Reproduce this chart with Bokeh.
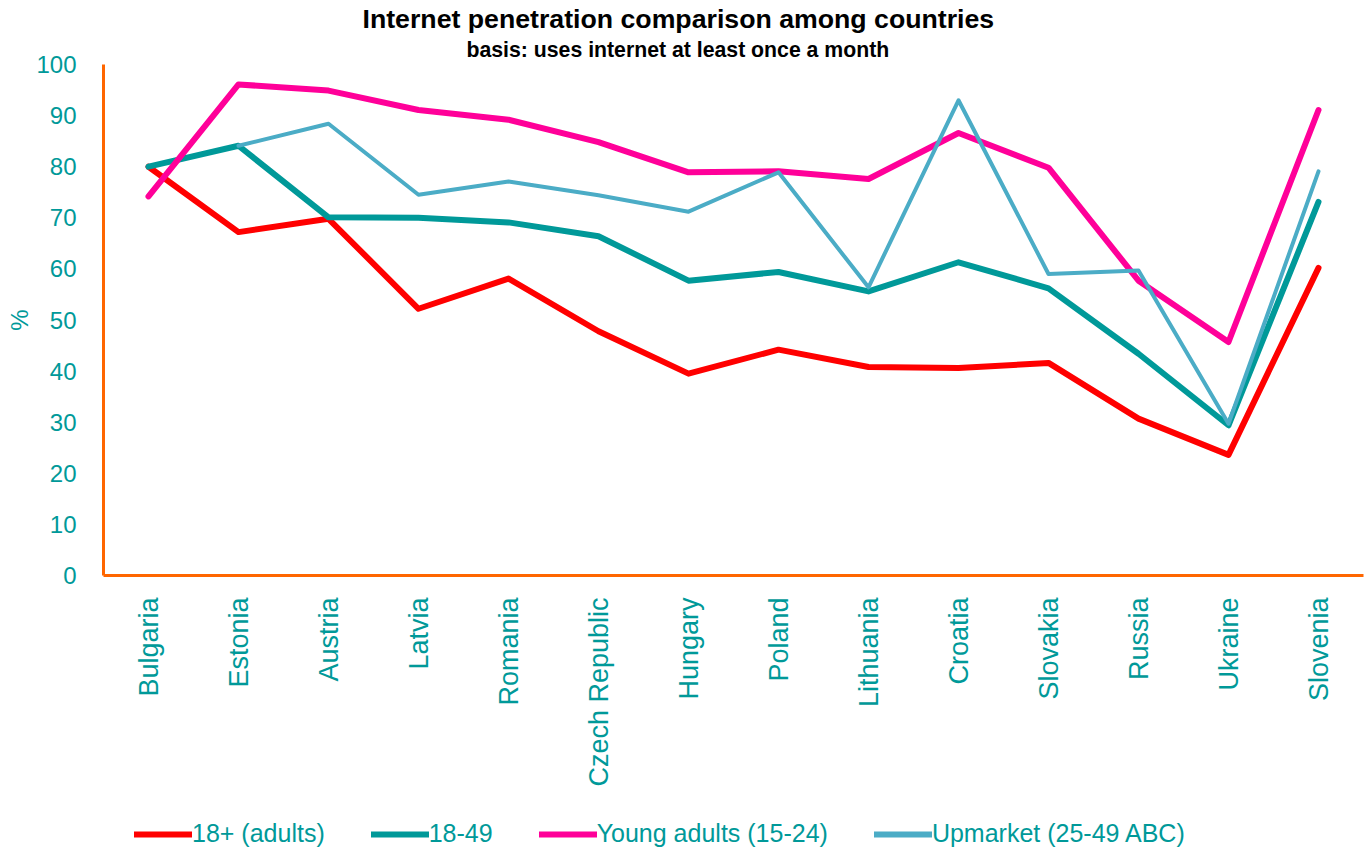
import math
from bokeh.plotting import figure
from bokeh.layouts import column
from bokeh.models import (FactorRange, Range1d, Legend, LegendItem, Title,
                          FixedTicker, ColumnDataSource)
from bokeh.embed import file_html
from bokeh.resources import INLINE

countries = ["Bulgaria", "Estonia", "Austria", "Latvia", "Romania", "Czech Republic",
             "Hungary", "Poland", "Lithuania", "Croatia", "Slovakia", "Russia",
             "Ukraine", "Slovenia"]
adults_18 = [80.0, 67.2, 69.8, 52.2, 58.1, 47.8, 39.5, 44.2, 40.8, 40.6, 41.6, 30.7, 23.6, 60.2]
age_18_49 = [80.0, 84.1, 70.1, 70.0, 69.1, 66.4, 57.7, 59.4, 55.6, 61.3, 56.2, 43.4, 29.4, 73.1]
young_15_24 = [74.2, 96.1, 94.9, 91.1, 89.2, 84.8, 78.9, 79.1, 77.6, 86.6, 79.8, 57.7, 45.7, 91.1]
upmarket = [float("nan"), 84.1, 88.4, 74.5, 77.1, 74.4, 71.2, 78.9, 56.4, 93.0, 59.0, 59.7, 29.7, 79.1]

series_names = ["18+ (adults)", "18-49", "Young adults (15-24)", "Upmarket (25-49 ABC)"]
series_values = [adults_18, age_18_49, young_15_24, upmarket]
series_colors = ["#FF0000", "#009999", "#FF0099", "#4BACC6"]
series_widths = [6, 6, 6, 4]
y_ticks = list(range(0, 101, 10))

TEAL = "#009999"
ORANGE = "#FF6600"
FONT = "Liberation Sans"

W = 1366
BORDER_L = 103
BORDER_R = 3

p = figure(width=W, height=818, x_range=FactorRange(*countries, range_padding=0),
           y_range=Range1d(0, 100), output_backend="svg", toolbar_location=None,
           title=None, min_border_left=BORDER_L, min_border_right=BORDER_R,
           min_border_top=64, min_border_bottom=243)
p.outline_line_color = None
p.xgrid.grid_line_color = None
p.ygrid.grid_line_color = None

sub = Title(text="basis: uses internet at least once a month", align="left",
            text_font=FONT, text_font_size="21.25px", text_font_style="bold",
            text_color="black", offset=363, standoff=6)
main = Title(text="Internet penetration comparison among countries", align="left",
             text_font=FONT, text_font_size="26.7px", text_font_style="bold",
             text_color="black", offset=259, standoff=-3)
p.add_layout(sub, "above")
p.add_layout(main, "above")

for name, vals, col, w in zip(series_names, series_values, series_colors, series_widths):
    src = ColumnDataSource(dict(x=countries, y=vals))
    p.line("x", "y", source=src, line_color=col, line_width=w,
           line_cap="round", line_join="round")

# axes
for ax in (p.xaxis[0], p.yaxis[0]):
    ax.axis_line_color = ORANGE
    ax.axis_line_width = 3
    ax.major_tick_line_color = None
    ax.minor_tick_line_color = None
    ax.major_tick_out = 0
    ax.major_tick_in = 0
    ax.minor_tick_out = 0
    ax.major_label_text_color = TEAL
    ax.major_label_text_font = FONT

p.yaxis.ticker = FixedTicker(ticks=y_ticks)
p.yaxis.major_label_text_font_size = "24px"
p.yaxis.major_label_standoff = 27
p.yaxis.axis_label = "%"
p.yaxis.axis_label_text_color = TEAL
p.yaxis.axis_label_text_font = FONT
p.yaxis.axis_label_text_font_size = "24px"
p.yaxis.axis_label_text_font_style = "normal"
p.yaxis.axis_label_standoff = 0

p.xaxis.major_label_orientation = math.pi / 2
p.xaxis.major_label_text_font_size = "27px"
p.xaxis.major_label_standoff = 22

# legend strip below the chart (its series lines are hidden; only the key is shown)
lg = figure(width=W, height=30, output_backend="svg", toolbar_location=None,
            min_border_left=BORDER_L, min_border_right=BORDER_R,
            min_border_top=0, min_border_bottom=0,
            x_axis_location=None, y_axis_location=None,
            x_range=FactorRange(*countries, range_padding=0), y_range=Range1d(0, 100))
lg.xgrid.grid_line_color = None
lg.ygrid.grid_line_color = None
lg.outline_line_color = None

items = []
for name, vals, col in zip(series_names, series_values, series_colors):
    src = ColumnDataSource(dict(x=countries, y=vals))
    r = lg.line("x", "y", source=src, line_color=col, line_width=6,
                line_cap="round", visible=False)
    items.append(LegendItem(label=name, renderers=[r]))

legend = Legend(items=items, orientation="horizontal", location=(31, 0),
                label_text_font=FONT, label_text_font_size="25px",
                label_text_color=TEAL, glyph_width=58, glyph_height=24,
                label_standoff=0, spacing=46, padding=0, margin=0,
                border_line_color=None, background_fill_alpha=0,
                inactive_fill_alpha=0, click_policy="none")
lg.add_layout(legend, "center")

layout = column(p, lg, spacing=0)
open("out.html", "w").write(file_html(layout, INLINE))
